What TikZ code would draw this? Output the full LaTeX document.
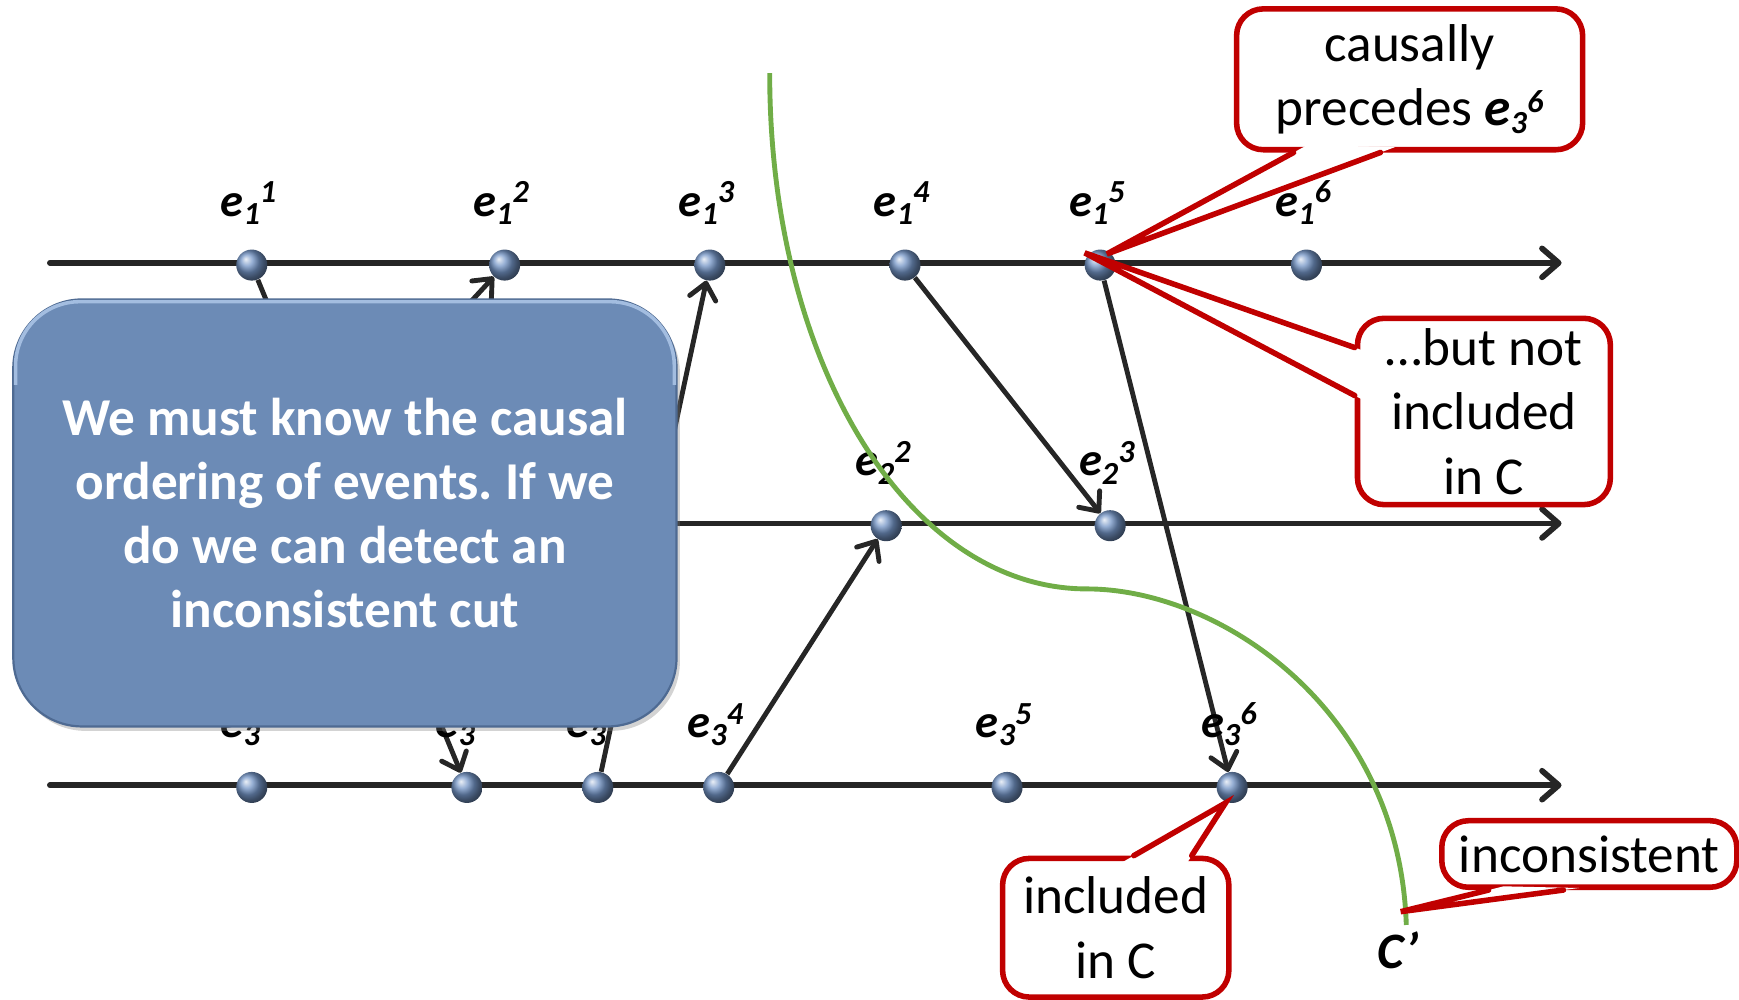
\documentclass[tikz,border=0pt]{standalone}
\usepackage{fontspec}
\setmainfont{Carlito}
\usetikzlibrary{arrows.meta,calc,shadows}
\definecolor{axisc}{HTML}{262626}
\definecolor{boxc}{HTML}{6C8BB6}
\definecolor{boxedge}{HTML}{4E6A92}
\definecolor{boxhi}{HTML}{A3BDE0}
\definecolor{dotc}{HTML}{7495C6}
\definecolor{redc}{HTML}{C00000}
\definecolor{greenc}{HTML}{70AD47}
\newcommand\evt[2]{\textbf{\textit{e\raisebox{-3.7pt}{\fontsize{14.5}{14.5}\selectfont #1}\raisebox{6pt}{\fontsize{14.5}{14.5}\selectfont #2}}}}
\newcommand\ptr[3]{%
  \fill[white] ($(#1)!-7pt!(#3)$) -- ($(#1)!7pt!(#3)$) -- ($(#2)!7pt!(#3)$) -- ($(#2)!-7pt!(#3)$) -- cycle;
  \draw[pointer] (#1) -- (#3) -- (#2);}
\pgfdeclarelayer{bg}
\pgfsetlayers{bg,main}
\frenchspacing
\begin{document}
\begin{tikzpicture}[x=0.5pt,y=-0.5pt,
  axis/.style={draw=axisc, line width=2.6pt, line cap=round, -{Straight Barb[length=7.5pt,width=13pt,round]}},
  msg/.style={draw=axisc, line width=2.2pt, -{Straight Barb[length=7pt,width=12pt,round]}},
  dot/.style={circle, inner sep=0pt, minimum size=14pt, shading=ball, ball color=dotc},
  lab/.style={anchor=base, inner sep=0pt, font=\fontsize{21}{25}\selectfont},
  cut/.style={draw=greenc, line width=2.2pt},
  bigbox/.style={rounded corners=31pt, fill=boxc, draw=boxedge, line width=1pt,
    minimum width=299pt, minimum height=192.5pt, text=white, align=center,
    font=\fontsize{24}{28.75}\selectfont\bfseries,
    drop shadow={shadow xshift=1.5pt, shadow yshift=-2pt, opacity=0.35}},
  callout/.style={draw=redc, fill=white, line width=2.5pt, rounded corners=12pt,
    align=center, inner sep=0pt, font=\fontsize{24}{29}\selectfont},
  pointer/.style={draw=redc, line width=2.5pt, line cap=round, line join=miter}]
\useasboundingbox (0,0) rectangle (1568,901);

% axis end points
\coordinate (a1s) at (45,237); \coordinate (a1e) at (1408,237);
\coordinate (a2s) at (45,472); \coordinate (a2e) at (1408,472);
\coordinate (a3s) at (45,708); \coordinate (a3e) at (1408,708);

% events
\node[dot] (e11) at (227,239) {};
\node[dot] (e12) at (455,239) {};
\node[dot] (e13) at (640,239) {};
\node[dot] (e14) at (816,239) {};
\node[dot] (e15) at (992,239) {};
\node[dot] (e16) at (1178,239) {};
\coordinate (e21) at (238,474);
\node[dot] (e22) at (799,474) {};
\node[dot] (e23) at (1001,474) {};
\node[dot] (e31) at (227,710) {};
\node[dot] (e32) at (421,710) {};
\node[dot] (e33) at (539,710) {};
\node[dot] (e34) at (648,710) {};
\node[dot] (e35) at (908,710) {};
\node[dot] (e36) at (1111,710) {};

\begin{pgfonlayer}{bg}
  \draw[axis] (a1s) -- (a1e);
  \draw[axis] (a2s) -- (a2e);
  \draw[axis] (a3s) -- (a3e);
  \draw[msg] (e11) -- (e32);
  \draw[msg] (e21) -- (e12);
  \draw[msg] (e33) -- (e13);
  \draw[msg] (e14) -- (e23);
  \draw[msg] (e15) -- (e36);
  \draw[msg] (e34) -- (e22);
\end{pgfonlayer}

% labels
\node[lab] (l11) at (224,195) {\evt{1}{1}};
\node[lab] (l12) at (452,195) {\evt{1}{2}};
\node[lab] (l13) at (637,195) {\evt{1}{3}};
\node[lab] (l14) at (813,195) {\evt{1}{4}};
\node[lab] (l15) at (989,195) {\evt{1}{5}};
\node[lab] (l16) at (1175,195) {\evt{1}{6}};
\node[lab] (l22) at (796,429) {\evt{2}{2}};
\node[lab] (l23) at (998,429) {\evt{2}{3}};
\node[lab] (l31) at (224,665) {\evt{3}{1}};
\node[lab] (l32) at (418,665) {\evt{3}{2}};
\node[lab] (l33) at (536,665) {\evt{3}{3}};
\node[lab] (l34) at (645,665) {\evt{3}{4}};
\node[lab] (l35) at (905,665) {\evt{3}{5}};
\node[lab] (l36) at (1108,665) {\evt{3}{6}};

% cut C'
\coordinate (g0) at (694,66);
\coordinate (gm) at (980,531);
\coordinate (g1) at (1268,834);
\draw[cut] (g0) .. controls (694,330) and (820,531) .. (gm)
                .. controls (1100,531) and (1262,640) .. (g1);
\node[lab, font=\fontsize{23}{27}\selectfont] (cp) at (1261,873) {\textbf{\textit{C’}}};

% big note
\node[bigbox] (box) at (311,462.5) {We must know the causal\\ordering of events. If we\\do we can detect an\\inconsistent cut};
\begin{scope}
  \clip (box.north west) rectangle ($(box.north east)!0.2!(box.south east)$);
  \draw[boxhi, line width=1.6pt, rounded corners=29pt]
    ($(box.north west)+(3,3)$) rectangle ($(box.south east)+(-3,-3)$);
\end{scope}

% callouts
\node[callout, minimum width=156pt, minimum height=63.5pt] (c1) at (1271,71.5) {causally\\precedes \evt{3}{6}};
\node[callout, minimum width=114pt, minimum height=84pt] (c2) at (1338,371) {…but not\\included\\in C};
\node[callout, minimum width=102pt, minimum height=62.5pt] (c3) at (1006,836.5) {included\\in C};
\node[callout, minimum width=133pt, minimum height=30pt] (c4) at (1433,770) {inconsistent};

\coordinate (t1) at (998,229);
\coordinate (t2) at (978,228);
\coordinate (t3) at (1105,724);
\coordinate (t4) at (1263,822);
\coordinate (b1a) at ($(c1.south west)!0.17!(c1.south east)$);
\coordinate (b1b) at ($(c1.south west)!0.417!(c1.south east)$);
\coordinate (b2a) at ($(c2.north west)!0.167!(c2.south west)$);
\coordinate (b2b) at ($(c2.north west)!0.417!(c2.south west)$);
\coordinate (b3a) at ($(c3.north west)!0.578!(c3.north east)$);
\coordinate (b3b) at ($(c3.north west)!0.828!(c3.north east)$);
\coordinate (b4a) at ($(c4.south west)!0.165!(c4.south east)$);
\coordinate (b4b) at ($(c4.south west)!0.414!(c4.south east)$);
\ptr{b1a}{b1b}{t1}
\ptr{b2a}{b2b}{t2}
\ptr{b3a}{b3b}{t3}
\ptr{b4a}{b4b}{t4}
\end{tikzpicture}
\end{document}
